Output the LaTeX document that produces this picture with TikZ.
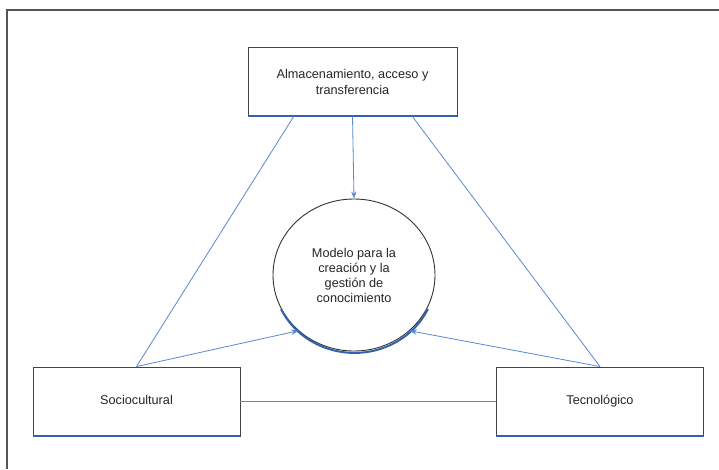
\documentclass[tikz,border=0pt]{standalone}
\usepackage{fontspec}
\setmainfont{Liberation Sans}
\usetikzlibrary{shapes.geometric,arrows.meta}
\definecolor{linkblue}{HTML}{5B87D6}
\definecolor{edgeblue}{HTML}{3461AE}
\definecolor{frame}{HTML}{555555}
\tikzset{
  box/.style={draw=frame!80!black, line width=0.9pt, minimum width=207pt, minimum height=69pt, inner sep=0pt, align=center, font=\fontsize{12.7}{16}\selectfont, text=black!85},
  onebox/.style={box, text height=9.5pt, text depth=3pt},
  bubble/.style={draw=black!80, line width=0.9pt, ellipse, minimum width=162pt, minimum height=152pt, inner sep=0pt, align=center, font=\fontsize{12.7}{15}\selectfont, text=black!85},
  link/.style={draw=linkblue, line width=0.8pt},
  arr/.style={link, -{Stealth[length=7pt,width=5.5pt]}},
  shade/.style={draw=edgeblue, line width=2pt}
}
\begin{document}
\begin{tikzpicture}[x=1pt,y=-1pt]
\useasboundingbox (0,0) rectangle (719,469);
\fill[white] (0,0) rectangle (719,469);
% outer frame (top and left)
\draw[frame, line width=1.4pt] (7,469) -- (7,10) -- (719,10);

\node[box, minimum width=209pt] (top) at (352.5,81.5) {Almacenamiento, acceso y\\transferencia};
\node[onebox] (soc) at (136.5,401.5) {Sociocultural};
\node[onebox] (tec) at (600,401.5) {Tecnológico};
\node[bubble] (c) at (354,275) {Modelo para la\\creación y la\\gestión de\\conocimiento};

% blue bottom edges
\draw[shade] (top.south west) -- (top.south east);
\draw[shade] (soc.south west) -- (soc.south east);
\draw[shade] (tec.south west) -- (tec.south east);
\draw[shade] (c.205) arc[x radius=81pt, y radius=76pt, start angle=205, end angle=335];

\coordinate (tl) at (294,116);
\coordinate (tr) at (412,116);

\draw[link] (tl) -- (soc.north);
\draw[link] (tr) -- (tec.north);
\draw[link] (soc.east) -- (tec.west);
\draw[arr] (top.south) -- (c.north);
\draw[arr] (soc.north) -- (c.225);
\draw[arr] (tec.north) -- (c.-45);
\end{tikzpicture}
\end{document}
